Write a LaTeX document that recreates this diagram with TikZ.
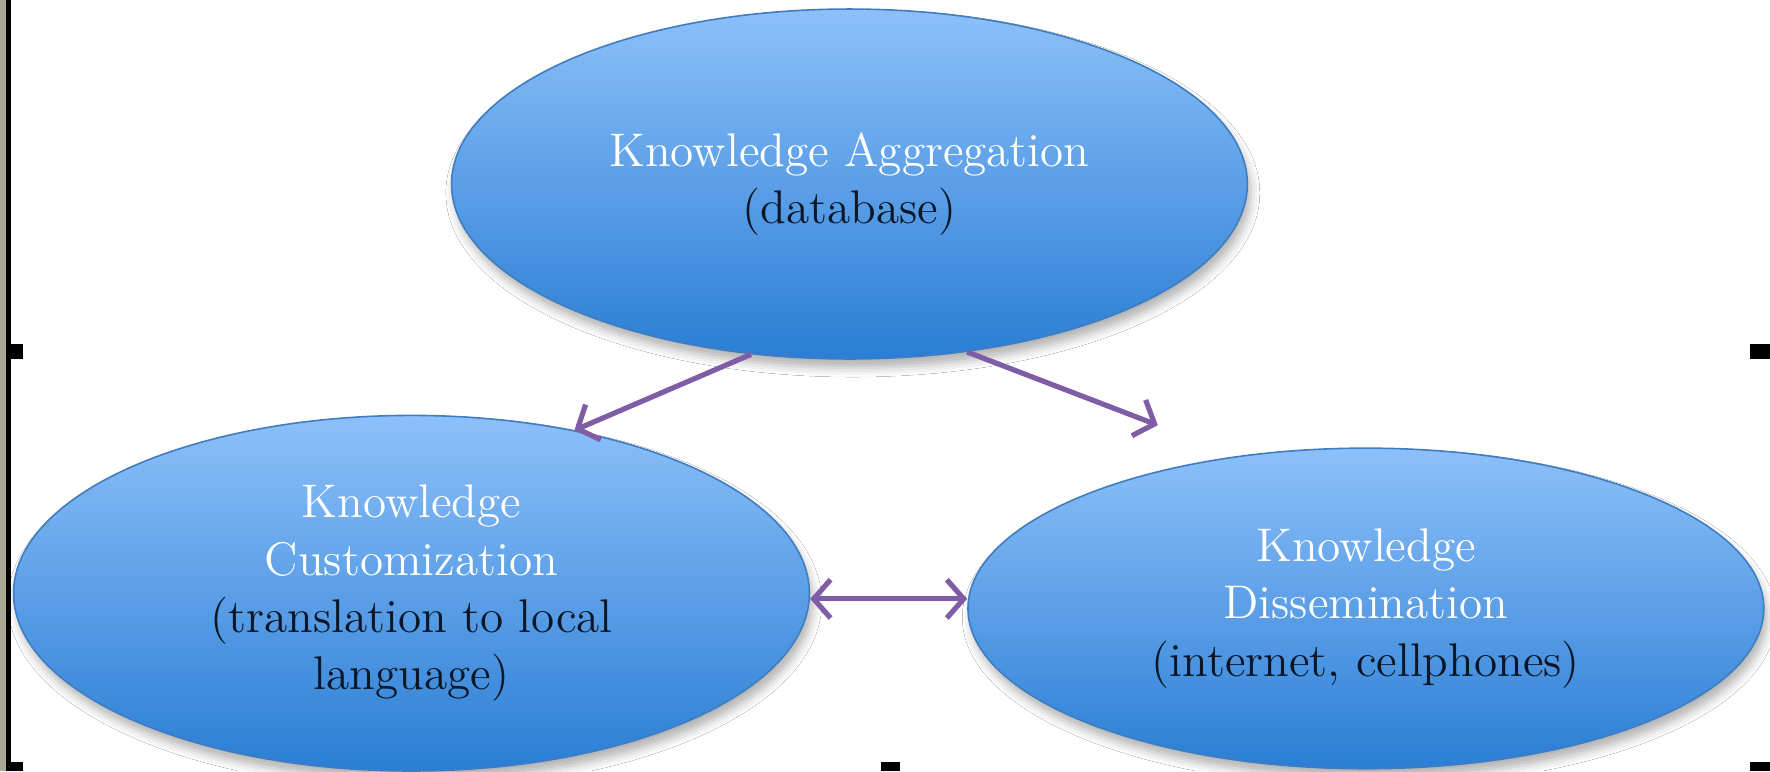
\documentclass[tikz,border=0pt]{standalone}
\usetikzlibrary{shapes.geometric,arrows.meta,shadows.blur}
\definecolor{ellTop}{HTML}{8DC0FA}
\definecolor{ellBot}{HTML}{2A7ED4}
\definecolor{ellEdge}{HTML}{3F7DC0}
\definecolor{subText}{HTML}{0B1626}
\definecolor{linkPurple}{HTML}{7E5CA6}
\definecolor{stripGray}{HTML}{A9A896}
\begin{document}
\begin{tikzpicture}[
  bubble/.style={ellipse, inner sep=0pt, minimum width=7.05cm, minimum height=3.1cm,
    top color=ellTop, bottom color=ellBot, draw=ellEdge, line width=0.4pt,
    align=center, text=white, font=\fontsize{11.9}{14.4}\selectfont,
    blur shadow={shadow xshift=0.3mm, shadow yshift=-0.8mm, shadow blur radius=0.8mm, shadow opacity=30}},
  link/.style={draw=linkPurple, line width=1.3pt,
    -{Straight Barb[length=1.5mm, width=3.4mm, line width=1.3pt]}},
  link2/.style={link, {Straight Barb[length=1.5mm, width=3.4mm, line width=1.3pt]}-{Straight Barb[length=1.5mm, width=3.4mm, line width=1.3pt]}},
  handle/.style={fill=black}
]
\useasboundingbox (0,0) rectangle (15.68,6.83);
\fill[white] (0,0) rectangle (15.68,6.83);

% page edge on the left
\fill[stripGray] (0,0) rectangle (0.055,6.83);
\fill[black] (0.055,0) rectangle (0.095,6.83);

% selection handles
\fill[handle] (0.08,3.65) rectangle (0.20,3.78);
\fill[handle] (0.08,0) rectangle (0.20,0.08);
\fill[handle] (15.50,3.65) rectangle (15.68,3.78);
\fill[handle] (15.50,0) rectangle (15.68,0.08);
\fill[handle] (7.80,0) rectangle (7.97,0.08);

% the three stages
\node[bubble, minimum height=3.1cm] (agg) at (7.525,5.20)
  {Knowledge Aggregation\\ \textcolor{subText}{(database)}};
\node[bubble, minimum height=3.15cm] (cust) at (3.645,1.575)
  {Knowledge\\ Customization\\ \textcolor{subText}{(translation to local}\\ \textcolor{subText}{language)}};
\node[bubble, minimum height=2.84cm] (diss) at (12.10,1.44)
  {Knowledge\\ Dissemination\\ \textcolor{subText}{(internet, cellphones)}};

% flows between stages
\draw[link] (agg.240) -- (cust.45);
\draw[link, shorten >=7.6mm] (agg.305) -- (diss.130);
\draw[link2] ([yshift=-0.5mm]cust.east) -- ([yshift=-0.5mm]cust.east -| diss.west);
\end{tikzpicture}
\end{document}
